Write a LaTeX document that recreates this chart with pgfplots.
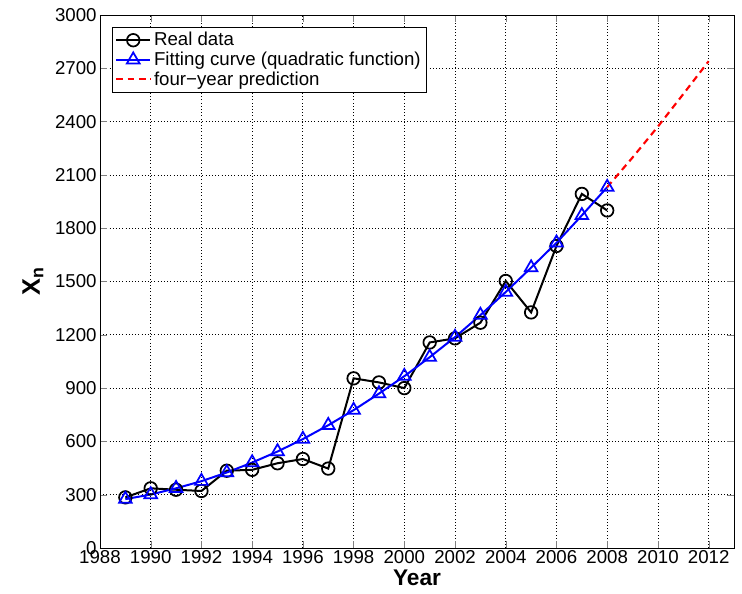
\documentclass[border=0pt]{standalone}
\usepackage{fontspec}
\setmainfont{Liberation Sans}
\usepackage{pgfplots}
\pgfplotsset{compat=1.18}
\definecolor{fitblue}{RGB}{0,0,255}
\definecolor{predred}{RGB}{255,0,0}

\begin{document}
\begin{tikzpicture}
\begin{axis}[
    at={(0,0)}, anchor=south west,
    scale only axis,
    width=475.5pt, height=399.75pt,
    xmin=1988, xmax=2013,
    ymin=0, ymax=3000,
    xtick={1988,1990,...,2012},
    ytick={0,300,...,3000},
    /pgf/number format/assume math mode=true,
    x tick label style={/pgf/number format/1000 sep={}, inner sep=1pt, yshift=-1pt},
    y tick label style={/pgf/number format/1000 sep={}, xshift=1pt},
    tick label style={font=\fontsize{14}{16}\selectfont},
    tick align=inside,
    tickpos=both,
    major tick length=5pt,
    grid=major,
    major grid style={black, dotted, line width=0.6pt},
    axis line style={black, line width=0.6pt},
    xlabel={\textbf{Year}},
    ylabel={\textbf{X}\textsubscript{\textbf{n}}},
    xlabel style={font=\fontsize{17}{19}\selectfont, inner sep=0.5pt, yshift=-2.5pt},
    ylabel style={font=\fontsize{19}{21}\selectfont, yshift=2pt},
    legend style={at={(0.019,0.978)}, anchor=north west, draw=black,
        line width=0.6pt,
        font=\fontsize{14}{16}\selectfont, inner sep=2pt,
        row sep=-1pt, cells={anchor=west}},
    legend cell align=left,
    legend image code/.code={\draw[mark repeat=2,mark phase=2]
        plot coordinates {(0cm,0cm) (0.45cm,0cm) (0.9cm,0cm)};},
]
% Real data
\addplot[black, line width=1.5pt, mark=o, mark size=4.7pt,
    mark options={line width=1.3pt}] coordinates {
    (1989,285) (1990,336) (1991,328) (1992,321) (1993,435)
    (1994,440) (1995,477) (1996,501) (1997,447) (1998,955)
    (1999,932) (2000,900) (2001,1157) (2002,1180) (2003,1268)
    (2004,1503) (2005,1326) (2006,1700) (2007,1993) (2008,1900)
};
\addlegendentry{Real data}
% Fitting curve
\addplot[fitblue, line width=1.5pt, mark=triangle, mark size=5.5pt,
    mark options={line width=1.3pt}] coordinates {
    (1989,275) (1990,301) (1991,336) (1992,376) (1993,425)
    (1994,481) (1995,543) (1996,613) (1997,691) (1998,776)
    (1999,869) (2000,967) (2001,1074) (2002,1187) (2003,1311)
    (2004,1441) (2005,1578) (2006,1718) (2007,1872) (2008,2031)
};
\addlegendentry{Fitting curve (quadratic function)}
% Prediction
\addplot[predred, line width=1.6pt, dash pattern=on 5pt off 3.5pt] coordinates {
    (2008,2031) (2009,2198) (2010,2372) (2011,2555) (2012,2740)
};
\addlegendentry{four−year prediction}
\end{axis}
\pgfresetboundingbox
\path[use as bounding box] (-75pt,-33.75pt) rectangle (481.5pt,411pt);
\end{tikzpicture}
\end{document}
